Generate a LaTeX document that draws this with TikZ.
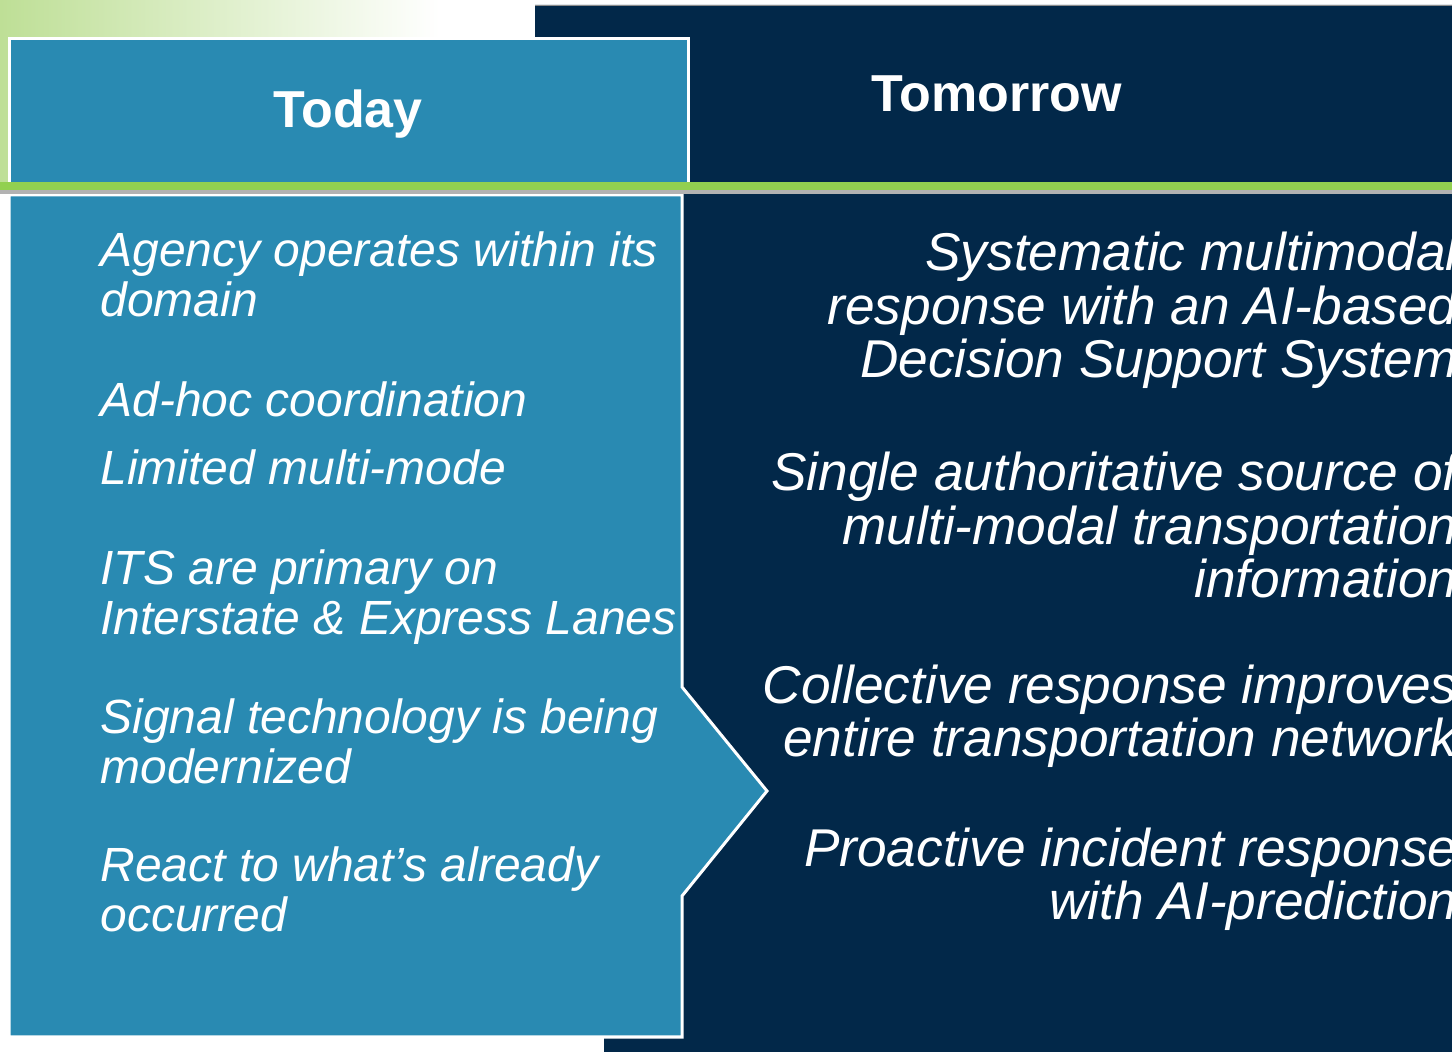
\documentclass[tikz,border=0pt]{standalone}
\usepackage{fontspec}
\setmainfont{Liberation Sans}
\definecolor{tealblue}{HTML}{298AB2}
\definecolor{navyblue}{HTML}{022849}
\definecolor{lgreen}{HTML}{92D050}
\definecolor{gtop}{HTML}{BEDF96}
\tikzset{
  ttl/.style={text=white, font=\fontsize{26}{30}\selectfont\bfseries, inner sep=0pt},
  ltext/.style={text=white, font=\fontsize{24}{25}\selectfont\itshape, align=left, inner sep=0pt},
  rtext/.style={text=white, font=\fontsize{26.6}{26.8}\selectfont\itshape, align=right, inner sep=0pt},
  panel/.style={fill=tealblue, draw=white, line width=1.5pt, line join=miter}
}
\begin{document}
\begin{tikzpicture}[x=0.5pt,y=-0.5pt]
\useasboundingbox (0,0) rectangle (1452,1052);
\clip (0,0) rectangle (1452,1052);
% top-left green gradient
\shade[left color=gtop, right color=white] (0,0) rectangle (440,192);
% navy background
\fill[navyblue] (535,5) -- (1452,5) -- (1452,1052) -- (604,1052) -- (604,600) -- (535,600) -- cycle;
\draw[black!45, line width=0.5pt] (535,5.5) -- (1452,5.5);
% top "Today" box
\path[panel] (9,39) rectangle (688,185);
% lower arrow panel
\path[panel] (9,195) -- (682,195) -- (682,687) -- (767,791) -- (682,896) -- (682,1037) -- (9,1037) -- cycle;
% green divider with shadow
\fill[black!30] (0,189) rectangle (1452,194);
\fill[lgreen] (0,182) rectangle (1452,190);
% titles
\node[ttl, anchor=base] (today) at (348,128) {Today};
\node[ttl, anchor=base] (tomorrow) at (997,112) {Tomorrow};
% left items (base anchor = baseline of last line)
\node[ltext, anchor=base west] (l1) at (100,317) {Agency operates within its\\domain};
\node[ltext, anchor=base west] (l2) at (100,417) {Ad-hoc coordination};
\node[ltext, anchor=base west] (l3) at (100,485) {Limited multi-mode};
\node[ltext, anchor=base west] (l4) at (100,635) {ITS are primary on\\Interstate \& Express Lanes};
\node[ltext, anchor=base west] (l5) at (100,784) {Signal technology is being\\modernized};
\node[ltext, anchor=base west] (l6) at (100,932) {React to what’s already\\occurred};
% right items
\node[rtext, anchor=base east] (r1) at (1458,378) {Systematic multimodal\\response with an AI-based\\Decision Support System};
\node[rtext, anchor=base east] (r2) at (1458,598) {Single authoritative source of\\multi-modal transportation\\information};
\node[rtext, anchor=base east] (r3) at (1458,757) {Collective response improves\\entire transportation network};
\node[rtext, anchor=base east] (r4) at (1458,920) {Proactive incident response\\with AI-prediction};
\end{tikzpicture}
\end{document}
